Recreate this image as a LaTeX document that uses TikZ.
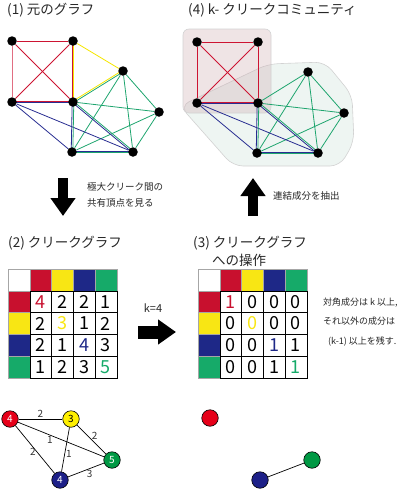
\documentclass[tikz,border=0pt]{standalone}
\usepackage{fontspec}
\setmainfont{Noto Sans CJK JP}
\usetikzlibrary{arrows.meta,positioning,calc,backgrounds}

\definecolor{clq1}{RGB}{200,16,46}
\definecolor{clq2}{RGB}{248,230,20}
\definecolor{clq3}{RGB}{30,40,135}
\definecolor{clq4}{RGB}{22,170,105}
\definecolor{edgered}{RGB}{205,20,50}
\definecolor{edgepink}{RGB}{225,110,130}
\definecolor{edgeyel}{RGB}{245,230,0}
\definecolor{edgeblue}{RGB}{40,45,145}
\definecolor{edgegrn}{RGB}{30,165,110}
\definecolor{dotred}{RGB}{230,0,25}
\definecolor{dotyel}{RGB}{255,240,0}
\definecolor{dotblue}{RGB}{29,32,136}
\definecolor{dotgrn}{RGB}{0,153,68}
\definecolor{regiongrn}{RGB}{238,245,242}
\definecolor{regionred}{RGB}{205,170,175}

\tikzset{
  vtx/.style={circle, fill=black, minimum size=9.5pt, inner sep=0pt},
  link/.style={line width=0.8pt},
  hcell/.style={draw=gray!70, line width=0.6pt, minimum size=21.7pt, inner sep=0pt},
  cell/.style={draw=black, line width=0.6pt, minimum size=21.7pt, inner sep=0pt, font=\fontsize{18}{18}\selectfont},
  title/.style={anchor=west, inner sep=0pt, text=black!85, font=\fontsize{13.5}{16}\selectfont},
  note/.style={anchor=west, inner sep=0pt, align=left, text=black!85, font=\fontsize{9.5}{16}\selectfont},
  bigarrow/.style={line width=10pt, -{Triangle[length=18pt,width=24pt]}},
  cnode/.style={circle, draw=black, line width=0.6pt, minimum size=16.5pt, inner sep=0pt, font=\fontsize{10}{10}\selectfont},
  wedge/.style={draw=black, line width=0.7pt},
  wlabel/.style={inner sep=1pt, text=black!80, font=\fontsize{10}{10}\selectfont}
}

% two coloured strokes side by side for an edge shared by two cliques
\newcommand{\twin}[4]{%
  \draw[link, #3] ($(#1)!0.8pt!90:(#2)$) -- ($(#2)!0.8pt!-90:(#1)$);
  \draw[link, #4] ($(#1)!0.8pt!-90:(#2)$) -- ($(#2)!0.8pt!90:(#1)$);
}

\begin{document}
\begin{tikzpicture}[x=1pt, y=-1pt]
  \useasboundingbox (0,0) rectangle (408,490);

  % (1) original graph
  \node[title] (t1) at (7,10) {(1) 元のグラフ};
  \foreach \n/\x/\y in {a/12/41, b/73/41, c/123/71, d/12/102, e/73/102, f/159/112, g/72/152, h/133/152}
    \node[vtx] (\n1) at (\x,\y) {};
  \begin{scope}[on background layer]
    \foreach \u/\v in {a1/b1, a1/e1, b1/d1}
      \draw[link, edgered] (\u) -- (\v);
    \draw[link, edgepink] (a1) -- (d1);
    \twin{b1}{e1}{edgeyel}{edgered}
    \twin{d1}{e1}{edgered}{edgeblue}
    \draw[link, edgeyel] (b1) -- (c1);
    \twin{c1}{e1}{edgegrn}{edgeyel}
    \foreach \u/\v in {c1/f1, c1/g1, c1/h1, e1/f1, f1/g1, f1/h1}
      \draw[link, edgegrn] (\u) -- (\v);
    \foreach \u/\v in {d1/g1, d1/h1}
      \draw[link, edgeblue] (\u) -- (\v);
    \twin{e1}{g1}{edgegrn}{edgeblue}
    \twin{e1}{h1}{edgegrn}{edgeblue}
    \twin{g1}{h1}{edgeblue}{edgegrn}
  \end{scope}

  % (4) k-clique communities
  \node[title] (t4) at (188,10) {(4) k- クリークコミュニティ};
  \foreach \n/\x/\y in {a/12/41, b/73/41, c/123/71, d/12/102, e/73/102, f/159/112, g/72/152, h/133/152}
    \node[vtx] (\n4) at (\x+185,\y+1) {};
  \begin{scope}[on background layer]
    \filldraw[fill=regiongrn, draw=gray!35, line width=0.6pt, rounded corners=10pt]
      (180,106) -- (268,64) -- (325,62) -- (352,95) -- (354,142) -- (340,166) -- (233,166) -- cycle;
    \filldraw[fill=regionred, fill opacity=0.32, draw=gray!35, line width=0.6pt, rounded corners=6pt]
      (183,29) rectangle (271,113);
    \foreach \u/\v in {a4/b4, a4/d4, a4/e4, b4/d4, b4/e4}
      \draw[link, edgered] (\u) -- (\v);
    \twin{d4}{e4}{edgered}{edgeblue}
    \foreach \u/\v in {c4/e4, c4/f4, c4/g4, c4/h4, e4/f4, f4/g4, f4/h4}
      \draw[link, edgegrn] (\u) -- (\v);
    \foreach \u/\v in {d4/g4, d4/h4}
      \draw[link, edgeblue] (\u) -- (\v);
    \twin{e4}{g4}{edgegrn}{edgeblue}
    \twin{e4}{h4}{edgegrn}{edgeblue}
    \twin{g4}{h4}{edgeblue}{edgegrn}
  \end{scope}

  % arrows between the steps
  \coordinate (dnA) at (63,178);
  \coordinate (dnB) at (63,216);
  \draw[bigarrow] (dnA) -- (dnB);
  \node[note] (n1) at (87,195) {極大クリーク間の\\共有頂点を見る};
  \coordinate (upA) at (253,216);
  \coordinate (upB) at (253,178);
  \draw[bigarrow] (upA) -- (upB);
  \node[note] (n2) at (273,196) {連結成分を抽出};

  % (2) clique graph
  \node[title] (t2) at (8,243) {(2) クリークグラフ};
  \node[hcell] (cg-0-0) at (19.15,280.15) {};
  \foreach \colr [count=\c] in {clq1,clq2,clq3,clq4} {
    \node[hcell, fill=\colr] (cg-0-\c) at ({8.3+21.7*(\c+0.5)},280.15) {};
    \node[hcell, fill=\colr] (cg-\c-0) at (19.15,{269.3+21.7*(\c+0.5)}) {};
  }
  \foreach \vals [count=\r] in {{4,2,2,1},{2,3,1,2},{2,1,4,3},{1,2,3,5}}
    \foreach \v [count=\c] in \vals {
      \ifnum\r=\c \def\tc{clq\r}\else\def\tc{black}\fi
      \node[cell, text=\tc] (cg-\r-\c) at ({8.3+21.7*(\c+0.5)},{269.3+21.7*(\r+0.5)}) {\v};
    }

  \node[font=\fontsize{11}{11}\selectfont, text=black!85] (k4) at (153,308) {k=4};
  \coordinate (kA) at (138,332);
  \coordinate (kB) at (176,332);
  \draw[bigarrow, line width=13pt] (kA) -- (kB);

  % (3) operation on the clique graph
  \node[title] (t3) at (193,243) {(3) クリークグラフ};
  \node[title] (t3b) at (212,260) {への操作};
  \node[hcell] (op-0-0) at (209.15,280.15) {};
  \foreach \colr [count=\c] in {clq1,clq2,clq3,clq4} {
    \node[hcell, fill=\colr] (op-0-\c) at ({198.3+21.7*(\c+0.5)},280.15) {};
    \node[hcell, fill=\colr] (op-\c-0) at (209.15,{269.3+21.7*(\c+0.5)}) {};
  }
  \foreach \vals [count=\r] in {{1,0,0,0},{0,0,0,0},{0,0,1,1},{0,0,1,1}}
    \foreach \v [count=\c] in \vals {
      \ifnum\r=\c \def\tc{clq\r}\else\def\tc{black}\fi
      \node[cell, text=\tc] (op-\r-\c) at ({198.3+21.7*(\c+0.5)},{269.3+21.7*(\r+0.5)}) {\v};
    }
  \node[note, font=\fontsize{9}{19.5}\selectfont] (n3) at (323,322)
    {対角成分は k 以上,\\それ以外の成分は\\\hspace{5pt}(k-1) 以上を残す.};

  % weighted clique graph
  \node[cnode, fill=dotred, text=white] (r2) at (10,419) {4};
  \node[cnode, fill=dotyel] (y2) at (71,419) {3};
  \node[cnode, fill=dotgrn, text=white] (g2) at (112,460) {5};
  \node[cnode, fill=dotblue, text=white] (b2) at (60,480) {4};
  \draw[wedge] (r2) -- node[wlabel, above] {2} (y2);
  \draw[wedge] (r2) -- node[wlabel, pos=0.37, below] {1} (g2);
  \draw[wedge] (r2) -- node[wlabel, pos=0.55, left] {2} (b2);
  \draw[wedge] (y2) -- node[wlabel, pos=0.6, right] {1} (b2);
  \draw[wedge] (y2) -- node[wlabel, above right, inner sep=0pt] {2} (g2);
  \draw[wedge] (b2) -- node[wlabel, below, pos=0.6] {3} (g2);

  % remaining graph
  \node[cnode, fill=dotred] (r3) at (210,418) {};
  \node[cnode, fill=dotgrn] (g3) at (312,460) {};
  \node[cnode, fill=dotblue] (b3) at (260,480) {};
  \draw[wedge] (b3) -- (g3);
\end{tikzpicture}
\end{document}
